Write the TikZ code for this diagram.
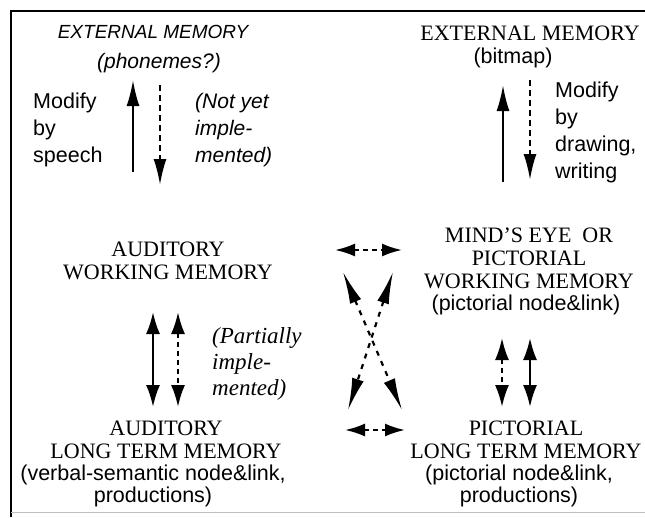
\documentclass[tikz,border=0pt]{standalone}
\usepackage{fontspec}
\setmainfont{Liberation Serif}
\setsansfont{Liberation Sans}
\usetikzlibrary{arrows.meta}
\begin{document}
\begin{tikzpicture}[x=1pt,y=-1pt,
  serifbox/.style={font=\fontsize{22}{23}\selectfont, align=center, inner sep=0pt},
  sansbox/.style={font=\sffamily\fontsize{21.5}{22}\selectfont, align=center, inner sep=0pt},
  sansleft/.style={font=\sffamily\fontsize{21.5}{27}\selectfont, align=left, inner sep=0pt, anchor=west},
  itsansleft/.style={font=\sffamily\itshape\fontsize{21}{27}\selectfont, align=left, inner sep=0pt, anchor=west},
  itserifleft/.style={font=\itshape\fontsize{23}{26}\selectfont, align=left, inner sep=0pt, anchor=west},
  solidarrow/.style={line width=2.2pt, -{Latex[length=26pt,width=13pt]}},
  dasharrow/.style={line width=2.2pt, dash pattern=on 6pt off 4pt, -{Latex[length=26pt,width=13pt]}},
  soliddouble/.style={line width=2.2pt, {Latex[length=22pt,width=14pt]}-{Latex[length=22pt,width=14pt]}},
  dashdouble/.style={line width=2.2pt, dash pattern=on 5pt off 4pt, {Latex[length=22pt,width=14pt]}-{Latex[length=22pt,width=14pt]}},
  hdouble/.style={line width=2.2pt, dash pattern=on 5pt off 4pt, {Latex[length=20pt,width=13pt]}-{Latex[length=20pt,width=13pt]}},
  crossdouble/.style={line width=2.2pt, dash pattern=on 5pt off 6pt, {Latex[length=32pt,width=12pt]}-{Latex[length=32pt,width=12pt]}}
]
\useasboundingbox (0,0) rectangle (645,517);
% frame
\draw[line width=2.5pt] (10,11) -- (645,11);
\draw[line width=2pt] (11,10) -- (11,517);
\draw[line width=1pt, black!25] (11,512) -- (645,512);

% top left
\node[font=\sffamily\itshape\fontsize{19}{20}\selectfont, inner sep=0pt] (extL) at (153,32) {EXTERNAL MEMORY};
\node[font=\sffamily\itshape\fontsize{21}{20}\selectfont, inner sep=0pt] (phon) at (159,63) {(phonemes?)};
\node[sansleft] (modL) at (33,130) {Modify\\by\\speech};
\node[itsansleft] (notyet) at (195,130) {(Not yet\\ imple-\\mented)};
\coordinate (l1a) at (133,172); \coordinate (l1b) at (133,80);
\coordinate (l2a) at (160,85);  \coordinate (l2b) at (160,185);
\draw[solidarrow] (l1a) -- (l1b);
\draw[dasharrow] (l2a) -- (l2b);

% top right
\node[serifbox] (extR) at (530,33) {EXTERNAL MEMORY};
\node[sansbox] (bitmap) at (513,58) {(bitmap)};
\node[sansleft] (modR) at (555,132.5) {Modify\\by\\drawing,\\writing};
\coordinate (r1a) at (503,182); \coordinate (r1b) at (503,85);
\coordinate (r2a) at (530,80);  \coordinate (r2b) at (530,180);
\draw[solidarrow] (r1a) -- (r1b);
\draw[dasharrow] (r2a) -- (r2b);

% middle left
\node[serifbox] (audWM) at (168,261) {AUDITORY\\WORKING MEMORY};
\node[itserifleft] (partial) at (212,364) {(Partially\\ imple-\\ mented)};
\coordinate (m1a) at (153,312); \coordinate (m1b) at (153,407);
\coordinate (m2a) at (178,312); \coordinate (m2b) at (178,407);
\draw[soliddouble] (m1a) -- (m1b);
\draw[dashdouble] (m2a) -- (m2b);

% bottom left
\node[serifbox] (audLTM) at (166,440) {AUDITORY\\LONG TERM MEMORY};
\node[sansbox] (audLTMs) at (153,486) {(verbal-semantic node\&link,\\productions)};

% middle right
\node[serifbox] (mind) at (529,258) {MIND'S EYE\ \ OR\\PICTORIAL\\WORKING MEMORY};
\node[sansbox] (mindS) at (526,305) {(pictorial node\&link)};
\coordinate (n1a) at (502,338); \coordinate (n1b) at (502,407);
\coordinate (n2a) at (530,338); \coordinate (n2b) at (530,407);
\draw[dashdouble] (n1a) -- (n1b);
\draw[soliddouble] (n2a) -- (n2b);

% bottom right
\node[serifbox] (picLTM) at (526,440) {PICTORIAL\\LONG TERM MEMORY};
\node[sansbox] (picLTMs) at (519,486) {(pictorial node\&link,\\productions)};

% centre cross
\coordinate (h1a) at (335,250); \coordinate (h1b) at (402,250);
\coordinate (h2a) at (345,430); \coordinate (h2b) at (405,430);
\coordinate (d1a) at (343,272); \coordinate (d1b) at (402,410);
\coordinate (d2a) at (393,272); \coordinate (d2b) at (348,410);
\draw[hdouble] (h1a) -- (h1b);
\draw[hdouble] (h2a) -- (h2b);
\draw[crossdouble] (d1a) -- (d1b);
\draw[crossdouble] (d2a) -- (d2b);
\end{tikzpicture}
\end{document}
